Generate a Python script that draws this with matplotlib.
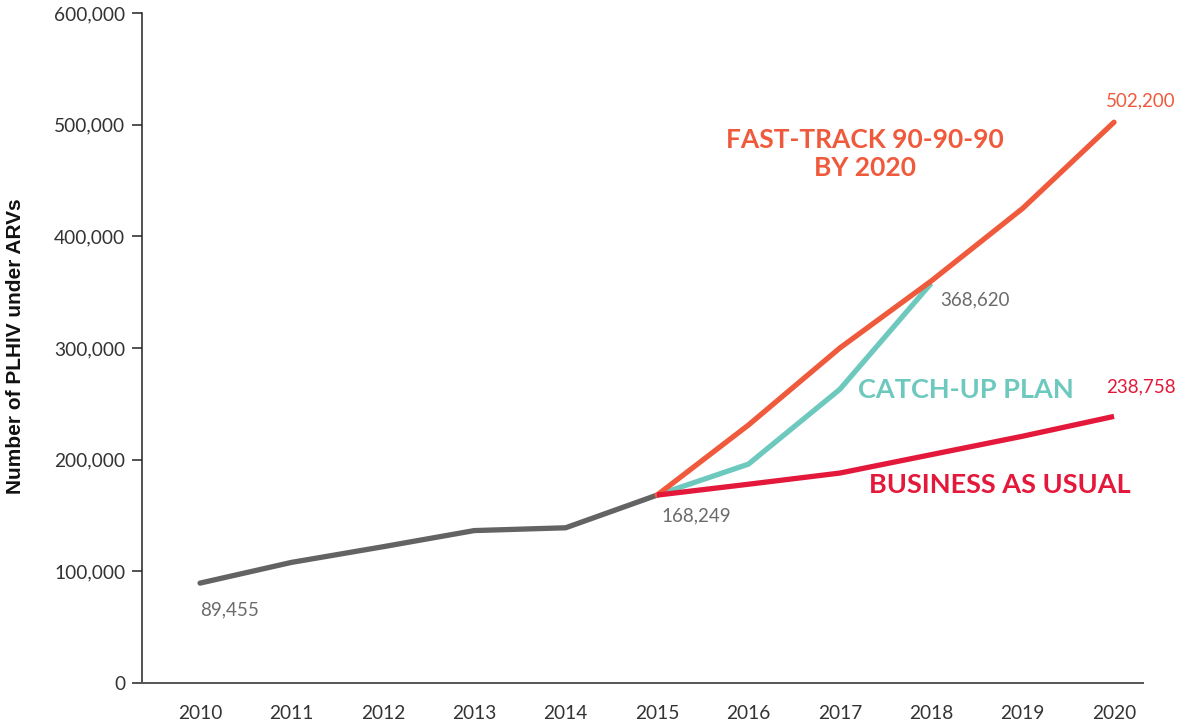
import matplotlib
matplotlib.use("Agg")
import matplotlib.pyplot as plt
from matplotlib.ticker import FuncFormatter

plt.rcParams['font.family'] = ['Lato', 'DejaVu Sans']

years_hist = [2010, 2011, 2012, 2013, 2014, 2015]
hist = [89455, 108000, 122000, 136500, 139000, 168249]

years_proj = [2015, 2016, 2017, 2018, 2019, 2020]
fast_track = [168249, 231000, 300000, 360000, 425000, 502200]
business = [168249, 178000, 188000, 204500, 221000, 238758]

years_catch = [2015, 2016, 2017, 2018]
catch_up = [168249, 196000, 263000, 358000]

xticks = list(range(2010, 2021))
yticks = [0, 100000, 200000, 300000, 400000, 500000, 600000]

c_gray = '#636363'
c_orange = '#F05A3C'
c_teal = '#6DC9BE'
c_red = '#E3183A'
c_text = '#333333'
c_lbl = '#6b6b6b'

fig = plt.figure(figsize=(11.79, 7.24), dpi=100)
ax = fig.add_axes([142/1179, 1-683/724, (1143-142)/1179, (683-13)/724])

lw = 3.8
ax.plot(years_hist, hist, color=c_gray, lw=lw, solid_capstyle='round', solid_joinstyle='round', zorder=3)
ax.plot(years_catch, catch_up, color=c_teal, lw=lw, solid_capstyle='butt', solid_joinstyle='round', zorder=3)
ax.plot(years_proj, fast_track, color=c_orange, lw=lw, solid_capstyle='round', solid_joinstyle='round', zorder=4)
ax.plot(years_proj, business, color=c_red, lw=lw, solid_capstyle='butt', solid_joinstyle='round', zorder=4)

ax.set_xlim(2009.365, 2020.317)
ax.set_ylim(0, 600000)
ax.set_xticks(xticks)
ax.set_xticklabels([str(y) for y in xticks])
ax.set_yticks(yticks)
ax.yaxis.set_major_formatter(FuncFormatter(lambda v, p: f"{int(v):,}"))

for s in ['top', 'right']:
    ax.spines[s].set_visible(False)
ax.spines['left'].set_color('#222222')
ax.spines['left'].set_linewidth(1.1)
ax.spines['bottom'].set_color('#555555')
ax.spines['bottom'].set_linewidth(1.4)

ax.tick_params(axis='y', direction='out', length=7, width=1.1, color='#222222',
               labelsize=13.8, labelcolor=c_text, pad=5)
ax.tick_params(axis='x', length=0, labelsize=13.8, labelcolor=c_text, pad=16)

ax.set_ylabel('Number of PLHIV under ARVs', fontsize=15, fontweight='bold', color='#111111',
              family=['Liberation Sans', 'DejaVu Sans'])
ax.yaxis.set_label_coords(-0.117, 0.503)

# annotations
fs_val = 13.5
ax.text(2010.0, hist[0] - 16000, f"{hist[0]:,}", fontsize=fs_val, color=c_lbl, ha='left', va='top')
ax.text(2015.05, hist[-1] - 11000, f"{hist[-1]:,}", fontsize=fs_val, color=c_lbl, ha='left', va='top')
ax.text(2018.1, 343000, "368,620", fontsize=fs_val, color=c_lbl, ha='left', va='center')
ax.text(2020.67, 521000, f"{fast_track[-1]:,}", fontsize=fs_val, color=c_orange, ha='right', va='center')
ax.text(2020.67, 265000, f"{business[-1]:,}", fontsize=fs_val, color=c_red, ha='right', va='center')

ax.text(2017.27, 474000, "FAST-TRACK 90-90-90\nBY 2020", fontsize=19, fontweight='bold',
        color=c_orange, ha='center', va='center', linespacing=1.2)
ax.text(2017.2, 262000, "CATCH-UP PLAN", fontsize=19.5, fontweight='bold', color=c_teal,
        ha='left', va='center')
ax.text(2017.32, 177000, "BUSINESS AS USUAL", fontsize=19.5, fontweight='bold', color=c_red,
        ha='left', va='center')

fig.savefig('out.png', dpi=100)
